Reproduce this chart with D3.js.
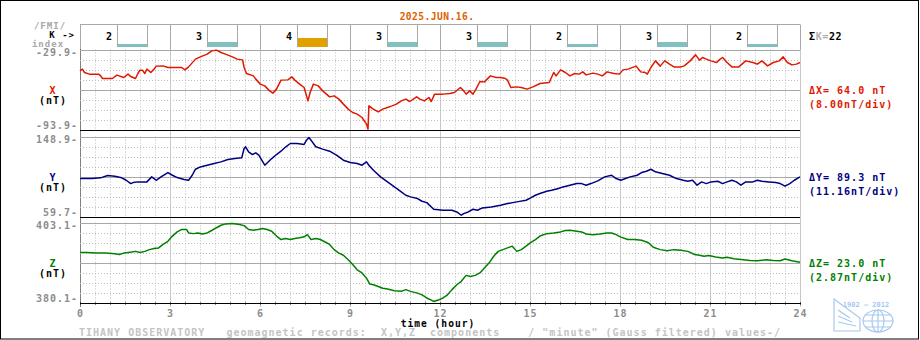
<!DOCTYPE html>
<html>
<head>
<meta charset="utf-8">
<script src="https://cdn.jsdelivr.net/npm/d3@7"></script>
<style>
  body { margin: 0; background: #fff; }
  text { font-family: "DejaVu Sans Mono", monospace; font-weight: bold; font-size: 10px; letter-spacing: 1px; }
</style>
</head>
<body>
<svg id="chart" width="920" height="340"></svg>
<script>
// ---- data ----
const dateLabel = "2025.JUN.16.";
const kIndex = [2, 3, 4, 3, 3, 2, 3, 2];
const components = ["X", "Y", "Z"];
const rangeTop = [-29.9, 148.9, 403.1];
const rangeBottom = [-93.9, 59.7, 380.1];
const deltas = [64.0, 89.3, 23.0];
const hourTicks = [0, 3, 6, 9, 12, 15, 18, 21, 24];

// [hour, nT]
const xSeries = [[0,-47.0],[0.08,-45.6],[0.15,-48.3],[0.31,-49.6],[0.62,-49.6],[0.69,-51.0],[0.75,-53.1],[1.08,-53.1],[1.23,-50.4],[1.46,-52.3],[1.60,-49.6],[1.69,-51.5],[1.85,-53.1],[1.93,-49.1],[2.00,-46.4],[2.08,-46.4],[2.16,-49.1],[2.23,-45.6],[2.36,-48.3],[2.47,-45.6],[2.54,-43.2],[2.77,-43.0],[2.93,-44.3],[3.24,-44.3],[3.39,-44.3],[3.50,-46.2],[3.62,-43.8],[3.85,-37.6],[4.01,-35.8],[4.24,-33.6],[4.39,-31.0],[4.55,-30.4],[4.70,-32.3],[4.85,-33.6],[5.08,-35.8],[5.24,-37.6],[5.42,-38.2],[5.47,-44.3],[5.55,-49.1],[5.78,-51.0],[5.86,-53.6],[6.01,-57.6],[6.16,-59.0],[6.32,-63.0],[6.43,-64.8],[6.55,-61.6],[6.70,-54.4],[6.93,-54.2],[7.06,-51.8],[7.16,-54.4],[7.32,-57.6],[7.47,-60.3],[7.60,-71.0],[7.67,-64.3],[7.78,-57.6],[7.94,-59.0],[8.09,-63.0],[8.32,-67.8],[8.47,-67.0],[8.63,-69.6],[8.78,-73.6],[8.94,-77.6],[9.09,-80.3],[9.24,-81.6],[9.40,-84.3],[9.55,-89.6],[9.60,-93.6],[9.63,-75.0],[9.78,-77.6],[9.94,-79.8],[10.09,-77.6],[10.25,-76.3],[10.40,-75.0],[10.55,-73.6],[10.71,-71.0],[10.86,-69.6],[10.99,-71.5],[11.22,-67.8],[11.33,-69.6],[11.48,-71.0],[11.63,-68.3],[11.71,-71.5],[11.82,-65.6],[12.10,-65.6],[12.33,-65.1],[12.48,-64.3],[12.68,-60.3],[12.79,-63.0],[12.87,-65.6],[12.99,-63.0],[13.10,-65.6],[13.20,-61.6],[13.33,-55.5],[13.48,-55.8],[13.68,-51.0],[13.87,-52.3],[14.02,-52.3],[14.18,-53.1],[14.25,-54.4],[14.36,-60.3],[14.56,-59.8],[14.71,-60.3],[14.90,-61.6],[15.10,-59.8],[15.33,-57.1],[15.64,-56.3],[15.79,-48.3],[15.87,-51.0],[16.02,-46.2],[16.18,-48.3],[16.33,-51.0],[16.49,-49.1],[16.64,-49.6],[16.76,-47.8],[16.87,-50.2],[17.10,-48.8],[17.26,-49.6],[17.41,-51.0],[17.57,-47.8],[17.80,-49.1],[17.98,-49.6],[18.10,-46.2],[18.26,-45.6],[18.54,-43.2],[18.69,-47.8],[18.84,-48.3],[18.91,-49.6],[19.03,-44.3],[19.18,-39.0],[19.34,-43.2],[19.49,-39.0],[19.65,-41.6],[19.80,-43.8],[20.03,-43.8],[20.14,-43.0],[20.34,-39.0],[20.52,-34.2],[20.65,-38.4],[20.75,-36.3],[20.88,-37.6],[21.03,-39.0],[21.22,-40.3],[21.34,-37.6],[21.42,-36.3],[21.57,-40.3],[21.73,-43.8],[21.96,-43.8],[22.19,-39.0],[22.43,-40.3],[22.58,-41.6],[22.73,-39.0],[22.92,-43.0],[23.11,-40.3],[23.31,-39.0],[23.44,-35.8],[23.58,-40.3],[23.73,-42.2],[23.88,-41.6],[24.0,-40.3]];

const ySeries = [[0,102.0],[0.39,102.0],[0.69,102.8],[0.92,105.4],[1.16,104.6],[1.39,102.8],[1.54,100.1],[1.69,96.4],[1.77,97.5],[1.93,98.3],[2.08,98.3],[2.23,98.3],[2.39,103.9],[2.54,100.1],[2.70,103.9],[2.93,108.7],[3.08,105.7],[3.24,103.1],[3.47,100.9],[3.62,100.1],[3.74,105.7],[3.85,112.4],[4.01,115.0],[4.24,116.9],[4.47,118.8],[4.70,120.6],[4.93,123.2],[5.16,124.3],[5.39,125.1],[5.47,135.5],[5.52,137.4],[5.62,131.8],[5.75,128.8],[5.86,130.7],[5.96,128.1],[6.16,116.9],[6.39,124.3],[6.55,128.8],[6.70,132.5],[6.86,137.4],[7.01,141.1],[7.24,141.1],[7.47,140.0],[7.55,144.8],[7.63,147.8],[7.70,144.8],[7.86,137.4],[8.09,134.8],[8.32,132.5],[8.55,128.1],[8.78,122.5],[9.01,119.9],[9.24,118.8],[9.40,116.9],[9.55,120.6],[9.63,116.9],[9.78,111.3],[10.02,103.9],[10.25,98.3],[10.48,92.7],[10.71,87.1],[10.86,83.4],[11.02,81.6],[11.25,79.7],[11.40,76.7],[11.56,75.2],[11.79,67.8],[12.10,66.7],[12.40,66.7],[12.56,64.8],[12.71,61.1],[12.79,62.9],[12.94,64.8],[13.10,67.8],[13.25,66.7],[13.41,69.3],[13.71,70.4],[14.02,72.2],[14.25,74.1],[14.56,76.0],[14.87,77.8],[15.02,80.4],[15.18,83.4],[15.33,85.3],[15.56,87.9],[15.72,89.0],[15.95,90.9],[16.10,92.7],[16.33,94.6],[16.56,96.4],[16.72,96.4],[16.87,94.6],[17.03,96.4],[17.26,99.4],[17.49,103.9],[17.72,105.7],[17.87,102.0],[18.03,100.1],[18.18,102.0],[18.34,103.9],[18.57,105.7],[18.72,108.7],[18.88,110.2],[19.03,112.4],[19.18,109.5],[19.41,107.6],[19.65,105.7],[19.88,102.0],[20.11,100.1],[20.26,99.0],[20.42,100.1],[20.57,94.6],[20.72,98.3],[20.88,96.4],[21.03,98.3],[21.26,99.0],[21.42,96.4],[21.57,98.3],[21.73,100.1],[21.88,98.3],[22.03,94.6],[22.19,98.3],[22.43,98.3],[22.58,100.1],[22.73,99.0],[22.96,98.3],[23.19,97.5],[23.34,96.4],[23.50,93.5],[23.66,96.4],[23.81,100.1],[24.0,103.9]];

const zSeries = [[0,394.5],[0.23,394.5],[0.54,394.3],[0.85,394.3],[1.16,394.1],[1.31,393.9],[1.46,394.3],[1.62,394.5],[1.85,394.8],[2.00,394.5],[2.16,394.8],[2.31,395.3],[2.47,395.6],[2.62,395.8],[2.77,396.8],[2.93,397.7],[3.08,399.2],[3.24,400.4],[3.39,401.1],[3.55,401.1],[3.62,400.1],[3.78,399.9],[3.93,400.1],[4.08,399.8],[4.24,400.1],[4.39,400.8],[4.55,401.6],[4.70,402.3],[4.85,402.7],[5.08,402.8],[5.32,402.5],[5.47,402.2],[5.62,401.1],[5.78,400.9],[5.93,401.1],[6.09,401.4],[6.24,401.1],[6.39,400.6],[6.55,399.2],[6.70,398.2],[6.86,398.5],[7.01,398.2],[7.16,398.5],[7.32,398.7],[7.47,399.0],[7.58,399.6],[7.70,398.2],[7.86,398.5],[8.01,398.2],[8.17,397.5],[8.32,396.8],[8.47,395.3],[8.63,394.3],[8.78,393.7],[8.94,392.4],[9.09,391.0],[9.24,389.5],[9.40,388.6],[9.55,387.1],[9.66,385.4],[9.78,385.2],[9.94,384.7],[10.09,384.2],[10.25,384.0],[10.48,383.5],[10.71,383.3],[10.86,383.8],[11.02,383.3],[11.25,382.8],[11.40,382.3],[11.56,381.4],[11.71,380.8],[11.79,380.4],[11.94,380.8],[12.10,381.4],[12.25,382.3],[12.40,383.8],[12.56,385.2],[12.71,386.2],[12.87,387.9],[13.02,387.6],[13.17,387.9],[13.33,388.6],[13.48,390.0],[13.64,391.5],[13.79,393.4],[13.94,394.8],[14.10,395.3],[14.25,395.8],[14.41,396.3],[14.56,394.8],[14.71,395.3],[14.87,396.3],[15.02,397.3],[15.18,398.2],[15.33,399.2],[15.56,399.9],[15.79,400.1],[16.02,400.4],[16.18,400.8],[16.33,400.9],[16.56,400.6],[16.72,400.4],[16.87,399.8],[17.10,399.6],[17.33,399.8],[17.57,400.1],[17.72,400.1],[17.87,399.6],[18.03,398.9],[18.26,398.2],[18.49,398.2],[18.72,398.0],[18.95,397.3],[19.11,396.0],[19.34,395.3],[19.57,395.0],[19.80,395.3],[20.03,395.1],[20.26,394.8],[20.49,393.9],[20.65,393.7],[20.80,393.4],[20.96,393.6],[21.19,393.2],[21.42,392.9],[21.57,393.1],[21.80,392.7],[22.11,392.4],[22.34,392.2],[22.58,392.1],[22.88,392.4],[23.11,392.2],[23.34,392.1],[23.50,392.6],[23.73,392.1],[24.0,391.7]];

const seriesList = [xSeries, ySeries, zSeries];
const seriesColors = ["#e01800", "#000080", "#008000"];

// ---- layout ----
const width = 920;
const height = 340;
const plotLeft = 80;
const plotRight = 800;
const kTop = 24.5;
const kBottom = 47;
const panelTops = [49.5, 136.5, 222.5];
const panelHeight = 80;
const axisY = 302.5;

const gridSolid = "#a8a8a8";
const gridDot = "#bcbcbc";
const labelGray = "#8c8c8c";

const svg = d3.select("#chart");

const x = d3.scaleLinear().domain([0, 24]).range([plotLeft, plotRight]);
const px = h => Math.round(x(h)) + 0.5;

// outer frame
svg.append("rect")
  .attr("x", 0.5).attr("y", 0.5)
  .attr("width", 918).attr("height", 338.5)
  .attr("fill", "none").attr("stroke", "#000");

// date title
svg.append("text")
  .attr("x", 437).attr("y", 19.5)
  .attr("text-anchor", "middle")
  .attr("fill", "#e06000")
  .style("font-size", "9.6px")
  .style("letter-spacing", "0.45px")
  .text(dateLabel);

// ---- K index band ----
const kg = svg.append("g");
kg.append("line")
  .attr("x1", plotLeft).attr("x2", plotRight)
  .attr("y1", kTop).attr("y2", kTop)
  .attr("stroke", gridSolid);

kg.selectAll(".kdiv")
  .data(hourTicks)
  .join("line")
  .attr("x1", d => px(d)).attr("x2", d => px(d))
  .attr("y1", kTop).attr("y2", panelTops[0])
  .attr("stroke", gridSolid);

// bar height for a K value
const kHeight = d3.scaleLinear().domain([0, 2, 3, 4, 9]).range([0, 3, 5, 9, 22]);

const kCell = kg.selectAll(".kcell")
  .data(kIndex)
  .join("g")
  .attr("transform", (d, i) => `translate(${x(i * 3)},0)`);

kCell.append("text")
  .attr("x", 29.5).attr("y", 39.5)
  .attr("text-anchor", "middle")
  .attr("fill", "#000")
  .text(d => d);

kCell.append("rect")
  .attr("x", 37.5)
  .attr("width", 30)
  .attr("y", d => kBottom - kHeight(d))
  .attr("height", d => kHeight(d))
  .attr("fill", d => d >= 4 ? "#e0a000" : "#80c0c0");

kCell.selectAll(".side")
  .data([37.5, 67.5])
  .join("line")
  .attr("x1", d => d).attr("x2", d => d)
  .attr("y1", kTop).attr("y2", kBottom)
  .attr("stroke", gridSolid);

// left K legend (slightly smaller so the three rows stay apart)
const legendSize = "9px";
svg.append("text").attr("x", 50).attr("y", 28.5).attr("text-anchor", "middle")
  .style("font-size", legendSize).attr("fill", "#a8a8a8").text("/FMI/");
svg.append("text").attr("x", 75).attr("y", 38).attr("text-anchor", "end")
  .style("font-size", legendSize).attr("fill", "#000").text("K ->");
svg.append("text").attr("x", 48).attr("y", 46.5).attr("text-anchor", "middle")
  .style("font-size", legendSize).attr("fill", "#a8a8a8").text("index");

// sum of K
const sumText = svg.append("text").attr("x", 809).attr("y", 39.5).style("letter-spacing", "0.6px");
sumText.append("tspan").attr("fill", "#000").text("\u03A3");
sumText.append("tspan").attr("fill", "#b0b0b0").text("K=");
sumText.append("tspan").attr("fill", "#000").text(d3.sum(kIndex));

// ---- major verticals running through all panels ----
svg.selectAll(".major")
  .data(hourTicks)
  .join("line")
  .attr("x1", d => px(d)).attr("x2", d => px(d))
  .attr("y1", panelTops[0]).attr("y2", axisY + 4)
  .attr("stroke", d => d === 0 ? "#000" : "#909090")
  .attr("stroke-dasharray", "1,1");

// ---- panels ----
const line = d3.line();

components.forEach((comp, i) => {
  const top = panelTops[i];
  const bottom = top + panelHeight;
  const y = d3.scaleLinear().domain([rangeBottom[i], rangeTop[i]]).range([bottom, top]);
  const step = (rangeTop[i] - rangeBottom[i]) / 8;
  const levels = d3.range(9).map(k => rangeBottom[i] + k * step);
  const g = svg.append("g");

  // minor verticals each half hour
  g.selectAll(".vminor")
    .data(d3.range(0.5, 24, 0.5).filter(h => h % 3 !== 0))
    .join("line")
    .attr("x1", d => px(d)).attr("x2", d => px(d))
    .attr("y1", top).attr("y2", bottom)
    .attr("stroke", gridDot)
    .attr("stroke-dasharray", "1,2");

  // horizontal divisions
  g.selectAll(".hline")
    .data(levels)
    .join("line")
    .attr("x1", plotLeft).attr("x2", plotRight)
    .attr("y1", d => Math.round(y(d)) + 0.5).attr("y2", d => Math.round(y(d)) + 0.5)
    .attr("stroke", (d, k) => k === 0 ? "#000" : (k === 4 || k === 8) ? gridSolid : gridDot)
    .attr("stroke-dasharray", (d, k) => (k === 0 || k === 4 || k === 8) ? null : "1,2");

  // series
  line.x(d => x(d[0])).y(d => y(d[1]));
  g.append("path")
    .datum(seriesList[i])
    .attr("d", line)
    .attr("fill", "none")
    .attr("stroke", seriesColors[i])
    .attr("stroke-width", 1.5)
    .attr("stroke-linejoin", "round");

  // range labels
  g.append("text")
    .attr("x", 78).attr("y", top + 6.5)
    .attr("text-anchor", "end").attr("fill", labelGray)
    .text(rangeTop[i].toFixed(1) + "-");
  g.append("text")
    .attr("x", 78).attr("y", bottom - 0.5)
    .attr("text-anchor", "end").attr("fill", labelGray)
    .text(rangeBottom[i].toFixed(1) + "-");

  const mid = top + panelHeight / 2;
  g.append("text")
    .attr("x", 53).attr("y", mid + 4)
    .attr("text-anchor", "middle").attr("fill", seriesColors[i])
    .text(comp);
  g.append("text")
    .attr("x", 53).attr("y", mid + 14)
    .attr("text-anchor", "middle").attr("fill", "#000")
    .text("(nT)");

  const perDiv = Math.floor(deltas[i] * 100 / 8) / 100;
  g.append("text")
    .attr("x", 809).attr("y", mid + 4)
    .attr("fill", seriesColors[i])
    .text(`\u0394${comp}= ${deltas[i].toFixed(1)} nT`);
  g.append("text")
    .attr("x", 809).attr("y", mid + 18)
    .attr("fill", seriesColors[i])
    .text(`(${perDiv.toFixed(2)}nT/div)`);
});

// ---- time axis ----
const axisG = svg.append("g")
  .attr("transform", `translate(0,${axisY})`);

axisG.selectAll(".tick-minor")
  .data(d3.range(0, 24.01, 0.5))
  .join("line")
  .attr("x1", d => px(d)).attr("x2", d => px(d))
  .attr("y1", 0).attr("y2", 2)
  .attr("stroke", "#000");

axisG.append("g")
  .call(d3.axisBottom(x).tickValues(hourTicks).tickSize(0).tickPadding(7).tickFormat(d3.format("d")))
  .call(g => g.select(".domain").remove())
  .call(g => g.selectAll("text")
    .attr("fill", labelGray)
    .style("font-family", "DejaVu Sans Mono, monospace")
    .style("font-weight", "bold")
    .style("font-size", "10px")
    .style("letter-spacing", "1px"));

svg.append("text")
  .attr("x", 438).attr("y", 326.5)
  .attr("text-anchor", "middle").attr("fill", "#000")
  .style("font-size", "9.6px")
  .text("time (hour)");

svg.append("text")
  .attr("x", 79).attr("y", 336)
  .attr("fill", "#c4c4c4")
  .style("white-space", "pre")
  .text('TIHANY OBSERVATORY   geomagnetic records:  X,Y,Z  components    / "minute" (Gauss filtered) values-/');

// ---- observatory logo (decoration) ----
const logo = svg.append("g")
  .attr("fill", "none")
  .attr("stroke", "#a8c8f0")
  .attr("stroke-width", 1.2);
logo.append("path").attr("d", "M834,299 L860,318 L860,331 L834,331 Z");
logo.append("path").attr("d", "M838,310 L850,318 M838,316 L852,322 M838,322 L856,326");
logo.append("ellipse").attr("cx", 878).attr("cy", 321).attr("rx", 15).attr("ry", 11);
logo.append("ellipse").attr("cx", 878).attr("cy", 321).attr("rx", 6).attr("ry", 11);
logo.append("path").attr("d", "M863,321 H893 M865,315 H891 M865,327 H891 M878,310 V332");
svg.append("text")
  .attr("x", 866).attr("y", 307)
  .attr("text-anchor", "middle")
  .attr("fill", "#a8c8f0")
  .style("font-size", "7px")
  .style("letter-spacing", "0px")
  .text("1902 \u2014 2012");
</script>
</body>
</html>
